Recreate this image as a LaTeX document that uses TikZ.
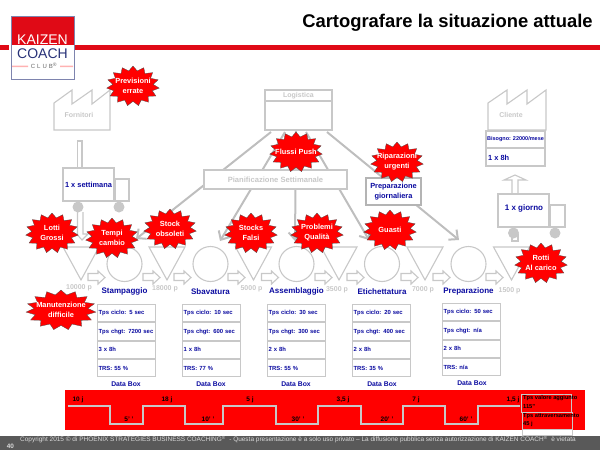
\documentclass[tikz,border=0pt]{standalone}
\usepackage{fontspec}
\setmainfont{Liberation Sans}
\usetikzlibrary{shapes.geometric,arrows.meta}
\definecolor{kzred}{RGB}{224,10,22}
\definecolor{kznavy}{RGB}{40,50,120}
\definecolor{kzblue}{RGB}{10,10,160}
\definecolor{kzgray}{RGB}{200,200,200}
\definecolor{kzdark}{RGB}{89,89,89}
\tikzset{
  burst/.style={star,star points=15,star point ratio=1.3,draw=black!70,line width=0.3pt,fill=red,
    inner sep=0pt,minimum size=40,xscale=1.32,transform shape},
  bursttxt/.style={text=white,font=\bfseries\fontsize{7.4}{10}\selectfont,align=center,inner sep=0pt},
  grayline/.style={kzgray,line width=1.1pt},
  link/.style={kzgray!95!black,line width=2pt},
  linkarrow/.style={link,-{Straight Barb[length=7pt,width=13pt,line width=2pt]}},
  outline/.style={draw=kzgray,line width=1.1pt,fill=white},
  stock/.style={grayline,fill=white},
  work/.style={draw=kzgray,line width=1.1pt,circle,inner sep=0pt,minimum size=35},
  push/.style={grayline,fill=white},
  wheel/.style={circle,fill=kzgray,inner sep=0pt,minimum size=11},
  bluetxt/.style={text=kzblue,font=\bfseries\fontsize{7.4}{10}\selectfont,align=center,inner sep=0pt},
  graytxt/.style={text=kzgray,font=\bfseries\fontsize{7}{10}\selectfont,inner sep=0pt},
  procname/.style={text=kzblue,font=\bfseries\fontsize{8}{10}\selectfont,inner sep=0pt},
  datarow/.style={outline,text=kzblue,font=\bfseries\fontsize{5.9}{8}\selectfont,text width=56,
    minimum height=17.25,inner xsep=1,inner ysep=0pt,anchor=north west,align=left},
  stepline/.style={kzgray,line width=1.5pt},
  tltxt/.style={text=black,font=\bfseries\fontsize{6.5}{8}\selectfont,inner sep=0pt},
  tlbox/.style={tltxt,anchor=west,font=\bfseries\fontsize{5.7}{8}\selectfont},
}
\begin{document}
\begin{tikzpicture}[x=1pt,y=-1pt]
  \useasboundingbox (0,0) rectangle (600,450);
  % header
  \fill[kzred] (0,45) rectangle (600,50);
  \node[font=\bfseries\fontsize{18.4}{22}\selectfont,inner sep=0pt] (title) at (447.5,23) {Cartografare la situazione attuale};
  \fill[white] (9,40) rectangle (75,55);
  \fill[kzred] (11,16) rectangle (74,45);
  \fill[red!30] (12,65.5) rectangle (28,67) (60,65.5) rectangle (73,67);
  \draw[kznavy!60,line width=0.8pt] (11,16) rectangle (74,79);
  \node[text=white,font=\fontsize{14}{16}\selectfont,inner sep=0pt] (logoA) at (42.5,39.5) {KAIZEN};
  \node[text=kznavy,font=\fontsize{14}{16}\selectfont,inner sep=0pt] (logoB) at (42.5,53.5) {COACH};
  \node[text=black!60,font=\fontsize{6}{7}\selectfont,inner sep=0pt] (logoC) at (44,66) {C\,\,L\,\,U\,\,B\textsuperscript{®}};
  % factories
  \draw[outline] (54,103) -- (72,90) -- (72,104) -- (92,90) -- (92,104) -- (110,90) -- (110,130) -- (54,130) -- cycle;
  \node[graytxt] (fornitori) at (79,115) {Fornitori};
  \draw[outline] (488,103) -- (507,90) -- (507,104) -- (527,90) -- (527,104) -- (546,90) -- (546,130) -- (488,130) -- cycle;
  \node[graytxt] (cliente) at (511,115) {Cliente};
  \node[outline,minimum width=59,minimum height=17,inner sep=0pt] (bisogno) at (515.5,139.5) {};
  \node[bluetxt,font=\bfseries\fontsize{5.5}{7}\selectfont] at (bisogno) {Bisogno: 22000/mese};
  \node[outline,minimum width=59,minimum height=18,inner sep=0pt] (ottoh) at (515.5,157) {};
  \node[bluetxt,anchor=west] at (488,158) {1 x 8h};
  % logistica
  \node[outline,minimum width=67,minimum height=11,inner sep=0pt] (logistica) at (298.5,95.5) {};
  \node[outline,minimum width=67,minimum height=29,inner sep=0pt] (logbody) at (298.5,115.5) {};
  \node[graytxt] at (logistica) {Logistica};
  % links
  \coordinate (startA) at (271,132); \coordinate (endA) at (136,239);
  \coordinate (startB) at (285,132); \coordinate (endB) at (220,241);
  \coordinate (startC) at (296,131); \coordinate (endC) at (295,241);
  \coordinate (startD) at (306,132); \coordinate (endD) at (369,240);
  \coordinate (startE) at (327,132); \coordinate (endE) at (459,240);
  \draw[linkarrow] (startA) -- (endA);
  \draw[linkarrow] (startB) -- (endB);
  \draw[linkarrow] (startC) -- (endC);
  \draw[linkarrow] (startD) -- (endD);
  \draw[linkarrow] (startE) -- (endE);
  \node[outline,minimum width=143,minimum height=19,graytxt,text=kzgray,font=\bfseries\fontsize{7.6}{10}\selectfont] (pianif) at (275.5,179.5) {Pianificazione Settimanale};
  \node[outline,draw=kzgray!90!black,line width=1.5pt,minimum width=55,minimum height=27,bluetxt] (prep) at (393.5,191.5) {Preparazione\\giornaliera};
  % truck left
  \fill[white] (77,141) rectangle (82,168);
  \draw[grayline] (77.5,168) -- (77.5,141) -- (82,141) -- (82,168);
  \draw[grayline] (77.5,212) -- (77.5,235) -- (82,240) -- (88,234) -- (83,234) -- (83,212);
  \node[outline,minimum width=14,minimum height=22,inner sep=0pt] (cabA) at (122,190) {};
  \node[outline,minimum width=51,minimum height=33,bluetxt] (truckA) at (88.5,184.5) {1 x settimana};
  \node[wheel] (wheelA) at (78,207) {};
  \node[wheel] (wheelB) at (119,207) {};
  % truck right
  \draw[push] (512,194) -- (512,180) -- (504,180) -- (515,175) -- (526,180) -- (518,180) -- (518,194);
  \node[outline,minimum width=15,minimum height=22,inner sep=0pt] (cabB) at (557.5,216) {};
  \node[outline,minimum width=51,minimum height=33,inner sep=0pt] (truckB) at (523.5,210.5) {};
  \node[bluetxt,font=\bfseries\fontsize{8}{10}\selectfont] at (524,208) {1 x giorno};
  \draw[grayline] (512,235) rectangle (518,241);
  \node[wheel] (wheelC) at (513.5,233) {};
  \node[wheel] (wheelD) at (555,233) {};
  % stocks
  \foreach \stockname/\tipx/\qty/\qtyy in {stockA/81/10000 p/288,stockB/167/18000 p/289,stockC/253.5/5000 p/289,
      stockD/339/3500 p/290,stockE/425/7000 p/290,stockF/511.5/1500 p/291}{
    \draw[stock] (\tipx-18,247) -- (\tipx+18,247) -- (\tipx,280) -- cycle;
    \node[graytxt] (\stockname) at (\tipx-2,\qtyy) {\qty};
  }
  % workstations
  \foreach \wsname/\wsx/\wstext in {wsA/124.5/Stampaggio,wsB/210.5/Sbavatura,wsC/296.5/Assemblaggio,wsD/382/Etichettatura,wsE/468.5/Preparazione}{
    \node[work] (\wsname) at (\wsx,264) {};
    \node[procname] (\wsname lab) at (\wsx,291.5) {\wstext};
  }
  % flow
  \foreach \pushx in {96.5,151.5,182.5,236.5,270,323.5,355.5,409.5,441.5,494.5}{
    \draw[push] (\pushx-8.5,273.5) -- (\pushx+1.5,273.5) -- (\pushx+1.5,271) -- (\pushx+8.5,277.5)
      -- (\pushx+1.5,284) -- (\pushx+1.5,280.5) -- (\pushx-8.5,280.5) -- cycle;
  }
  % data boxes
  \foreach \dbname/\dbx/\dby/\dbA/\dbB/\dbC/\dbD/\dblab in {
      dbA/97/304/5 sec/7200 sec/3 x 8h/55 \%/126,dbB/182/304/10 sec/600 sec/1 x 8h/77 \%/211,
      dbC/267/304/30 sec/300 sec/2 x 8h/55 \%/296,dbD/352/304/20 sec/400 sec/2 x 8h/35 \%/382,
      dbE/442/303/50 sec/n\slash a/2 x 8h/n\slash a/472}{
    \node[datarow] (\dbname one) at (\dbx,\dby) {Tps ciclo: \dbA};
    \node[datarow] (\dbname two) at (\dbname one.south west) {Tps chgt: \dbB};
    \node[datarow] (\dbname three) at (\dbname two.south west) {\dbC};
    \node[datarow] (\dbname four) at (\dbname three.south west) {TRS: \dbD};
    \node[bluetxt,font=\bfseries\fontsize{6.8}{8}\selectfont] (\dbname lab) at (\dblab,\dby+80) {Data Box};
  }
  % timeline
  \fill[red] (65,390) rectangle (585,430);
  \draw[stepline] (68,406) -- (110,406) -- (110,424) -- (143,424) -- (143,406) -- (185,406) -- (185,424) -- (223,424) -- (223,406)
    -- (276,406) -- (276,424) -- (318,424) -- (318,406) -- (361,406) -- (361,424) -- (403,424) -- (403,406) -- (445,406)
    -- (445,424) -- (478,424) -- (478,406) -- (520,406);
  \foreach \tlx/\tly/\tltext in {78/400/10 j,129/419/5' ',167/400/18 j,208/419/10' ',250/400/5 j,298/419/30' ',343/400/3{,}5 j,
      387/419/20' ',416/400/7 j,466/419/60' ',513/400/1{,}5 j}{
    \node[tltxt] at (\tlx,\tly) {\tltext};
  }
  \fill[kzdark] (0,436) rectangle (600,450);
  \draw[grayline,line width=1pt] (521,394) rectangle (571,412);
  \draw[grayline,line width=1pt] (522,412) rectangle (572,435) (522,429) -- (572,429);
  \node[tlbox] at (523,398.5) {Tps valore aggiunto};
  \node[tlbox] at (523,407) {115''};
  \node[tlbox] at (523,416) {Tps attraversamento};
  \node[tlbox] at (523,424.5) {45 j};
  % footer
  \node[text=black!15,font=\fontsize{6.47}{8}\selectfont,inner sep=0pt,anchor=west] (copyright) at (20,439.5)
    {Copyright 2015 © di PHOENIX STRATEGIES BUSINESS COACHING\textsuperscript{®}\ \ - Questa presentazione è a solo uso privato – La diffusione pubblica senza autorizzazione di KAIZEN COACH\textsuperscript{®}\ \ è vietata};
  \node[text=black!15,font=\bfseries\fontsize{6.4}{8}\selectfont,inner sep=0pt] (pageno) at (10.5,446.5) {40};
  % bursts
  \foreach \bname/\bx/\by/\btext in {bPrev/133/86/{Previsioni\\errate},bPush/296/152/{Flussi Push},bRip/397/162/{Riparazioni\\urgenti},
      bLotti/52/233/{Lotti\\Grossi},bTempi/112/238/{Tempi\\cambio},bStock/170/229/{Stock\\obsoleti},bFalsi/251/233/{Stocks\\Falsi},
      bQual/317/233/{Problemi\\Qualità},bGuasti/390/230/{Guasti},bRotti/541/263/{Rotti\\Al carico}}{
    \node[burst] (\bname) at (\bx,\by) {};
    \node[bursttxt] at (\bx,\by) {\btext};
  }
  \node[burst,xscale=1.33] (bManu) at (61,310) {};
  \node[bursttxt] at (61,310) {Manutenzione\\difficile};
\end{tikzpicture}
\end{document}
